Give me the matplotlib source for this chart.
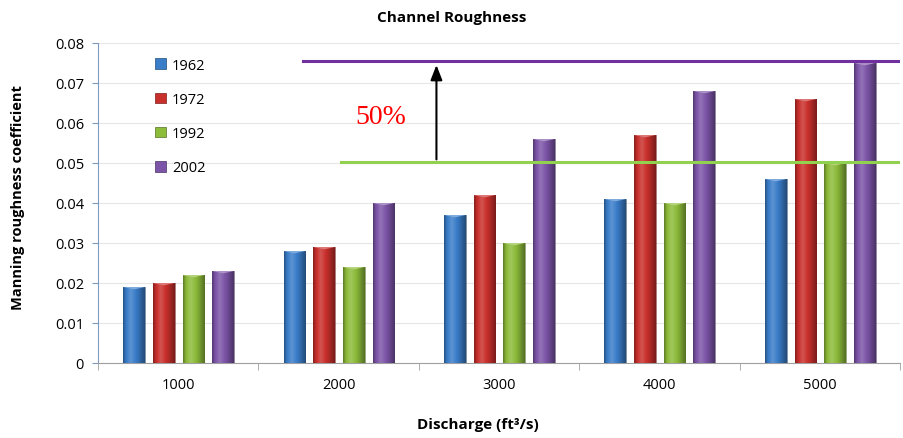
import numpy as np
import matplotlib.pyplot as plt
from matplotlib.colors import to_rgb
from matplotlib.patches import Patch

plt.rcParams['font.family'] = ['Open Sans', 'DejaVu Sans']

discharge = ['1000', '2000', '3000', '4000', '5000']
years = ['1962', '1972', '1992', '2002']
n_1962 = [0.019, 0.028, 0.037, 0.041, 0.046]
n_1972 = [0.020, 0.029, 0.042, 0.057, 0.066]
n_1992 = [0.022, 0.024, 0.030, 0.040, 0.050]
n_2002 = [0.023, 0.040, 0.056, 0.068, 0.075]
level_low = 0.0502
level_high = 0.0755
increase_label = '50%'

series = [n_1962, n_1972, n_1992, n_2002]
colors = ['#3a7dc9', '#c9302c', '#8dbb3a', '#7d55a8']


def shade(color, k):
    r, g, b = to_rgb(color)
    if k >= 0:
        return (r + (1 - r) * k, g + (1 - g) * k, b + (1 - b) * k)
    return (r * (1 + k), g * (1 + k), b * (1 + k))


def cylinder(ax, bar, color):
    # horizontal gradient clipped to the bar so it looks round
    t = np.linspace(0, 1, 64)
    prof = np.interp(t, [0, 0.12, 0.35, 0.7, 1], [-0.35, -0.05, 0.18, -0.1, -0.4])
    img = np.array([[shade(color, k) for k in prof]])
    x0, y0 = bar.get_x(), bar.get_y()
    w, h = bar.get_width(), bar.get_height()
    im = ax.imshow(img, extent=[x0, x0 + w, y0, y0 + h], aspect='auto',
                   interpolation='bicubic', zorder=3)
    im.set_clip_path(bar)
    # small lighter cap on top
    ax.fill([x0, x0 + w, x0 + w / 2], [y0 + h, y0 + h, y0 + h - 0.0006],
            color=shade(color, 0.35), zorder=4, lw=0)


fig = plt.figure(figsize=(9.04, 4.39), dpi=100)
ax = fig.add_axes([98 / 904, 75 / 439, 802 / 904, 320 / 439])

x = np.arange(len(discharge))
offsets = [-0.275, -0.09, 0.095, 0.28]
width = 0.135
for vals, off, c in zip(series, offsets, colors):
    bars = ax.bar(x + off, vals, width, facecolor='none', edgecolor=shade(c, -0.45),
                  linewidth=0.4, zorder=3)
    for b in bars:
        cylinder(ax, b, c)

ax.set_xlim(-0.5, 4.5)
ax.set_ylim(0, 0.08)
ax.set_yticks(np.arange(0, 0.081, 0.01))
ax.set_yticklabels(['0'] + ['%.2f' % v for v in np.arange(0.01, 0.081, 0.01)])
ax.set_xticks(x)
ax.set_xticklabels(discharge)
ax.set_xticks(np.arange(-0.5, 4.6, 1), minor=True)
ax.tick_params(axis='x', which='major', length=0, pad=10, labelsize=10.5)
ax.tick_params(axis='x', which='minor', length=5, color='#a0a0a0')
ax.tick_params(axis='y', length=4, color='#7f9ac0', labelsize=10.5, pad=6)
ax.grid(axis='y', color='#e6e6e6', linewidth=0.8, zorder=0)
ax.set_axisbelow(True)
for s in ['top', 'right']:
    ax.spines[s].set_visible(False)
ax.spines['left'].set_color('#7f9ac0')
ax.spines['bottom'].set_color('#a0a0a0')

# reference levels and the rise between them
ax.plot([0.78, 4.5], [level_high, level_high], color='#7030a0', lw=2.2, zorder=5)
ax.plot([1.015, 4.5], [level_low, level_low], color='#92d050', lw=2.2, zorder=5)
ax.annotate('', xy=(1.61, level_high - 0.0003), xytext=(1.61, level_low),
            arrowprops=dict(arrowstyle='-|>,head_width=0.35,head_length=0.9',
                            color='black', lw=1.5), zorder=6)
ax.text(1.26, 0.0615, increase_label, color='red', fontsize=20,
        family='Liberation Serif', ha='center', va='center')

handles = [Patch(facecolor=c, edgecolor=shade(c, -0.4), lw=0.5) for c in colors]
ax.legend(handles, years, loc='upper left', bbox_to_anchor=(0.055, 0.995),
          frameon=False, fontsize=10.5, handlelength=0.75, handleheight=0.75,
          handletextpad=0.4, labelspacing=1.32)

fig.text(0.5, 0.958, 'Channel Roughness', ha='center', va='center',
         fontsize=11, fontweight='bold')
fig.text(0.529, 0.032, 'Discharge (ft³/s)', ha='center', va='center',
         fontsize=11, fontweight='bold')
fig.text(0.02, 0.55, 'Manning roughness coefficient', rotation=90, ha='center',
         va='center', fontsize=10.5, fontweight='bold')

fig.savefig('out.png', dpi=100)
